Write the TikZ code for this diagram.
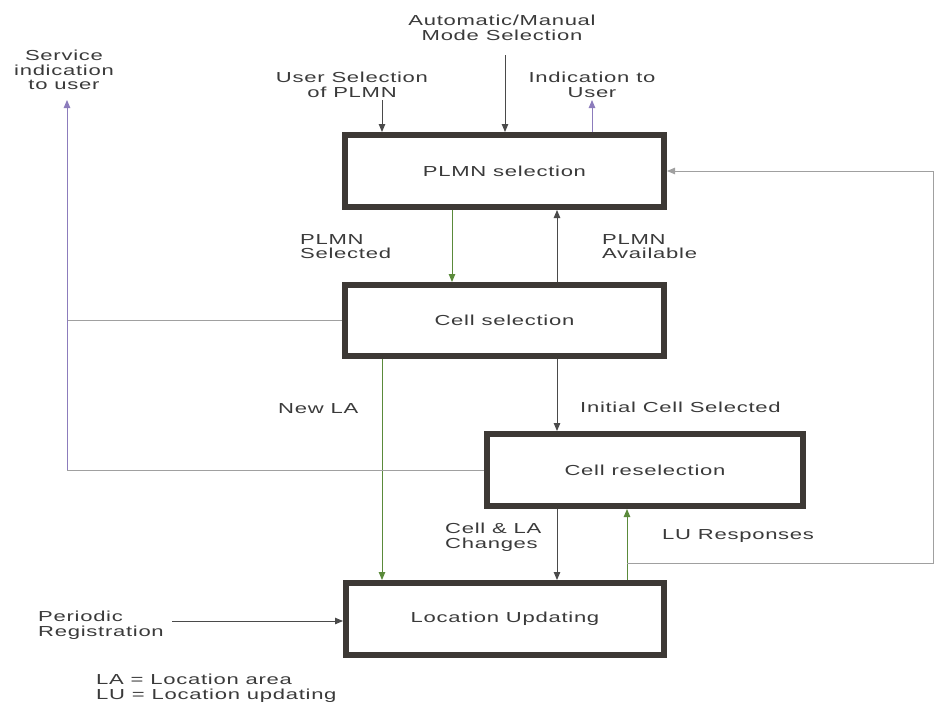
\documentclass[tikz,border=0pt]{standalone}
\usepackage{fontspec}
\setmainfont{Liberation Sans}[FakeStretch=1.52,LetterSpace=5]
\usetikzlibrary{arrows.meta}
\definecolor{boxc}{HTML}{3D3935}
\definecolor{txt}{HTML}{3A3A3A}
\definecolor{lgray}{HTML}{A0A0A0}
\definecolor{dgray}{HTML}{4A4A4A}
\definecolor{grn}{HTML}{5A8A3A}
\definecolor{purp}{HTML}{8C7CBC}
\begin{document}
\begin{tikzpicture}[x=1pt,y=-1pt,
  every node/.style={font=\fontsize{14.5}{14.5}\selectfont, text=txt},
  blk/.style={draw=boxc, line width=6pt, fill=white, inner sep=0pt},
  lbl/.style={inner sep=0pt, align=left, anchor=north west},
  lblc/.style={inner sep=0pt, align=center, anchor=north},
  arr/.style={-{Triangle[length=8pt,width=6.5pt]}, line width=0.9pt},
  ln/.style={line width=0.9pt}]
\useasboundingbox (0,0) rectangle (934,702);

% boxes
\node[blk, minimum width=319pt, minimum height=72pt] (plmn) at (504.5,171) {PLMN selection};
\node[blk, minimum width=319pt, minimum height=71pt] (cell) at (504.5,320.5) {Cell selection};
\node[blk, minimum width=316pt, minimum height=72pt] (resel) at (645,470) {Cell reselection};
\node[blk, minimum width=318pt, minimum height=72pt] (lu) at (505,619) {Location Updating};

% labels
\node[lblc] (tauto) at (502,15) {Automatic/Manual\\Mode Selection};
\node[lblc] (tserv) at (64,50) {Service\\indication\\to user};
\node[lblc] (tusel) at (352,72) {User Selection\\of PLMN};
\node[lblc] (tind) at (592,72) {Indication to\\User};
\node[lbl] (tpsel) at (300,234) {PLMN\\Selected};
\node[lbl] (tpav) at (602,234) {PLMN\\Available};
\node[lbl] (tnla) at (278,403) {New LA};
\node[lbl] (tics) at (580,402) {Initial Cell Selected};
\node[lbl] (tcla) at (445,523) {Cell \& LA\\Changes};
\node[lbl] (tlur) at (662,529) {LU Responses};
\node[lbl] (tper) at (38,611) {Periodic\\Registration};
\node[lbl] (tleg) at (96,674) {LA = Location area\\LU = Location updating};

% coordinates
\coordinate (autoS) at (505,55);
\coordinate (uselS) at (382,100);
\coordinate (indE) at (592,100);
\coordinate (sv) at (67,100);
\coordinate (perS) at (172,621);
\coordinate (j) at (627,563);
\coordinate (rc) at (933,563);

% top inputs
\draw[arr,dgray] (autoS) -- (autoS |- plmn.north);
\draw[arr,dgray] (uselS) -- (uselS |- plmn.north);
\draw[arr,purp] (indE |- plmn.north) -- (indE);

% PLMN <-> Cell
\draw[arr,grn] (plmn.south -| 452,0) -- (cell.north -| 452,0);
\draw[arr,dgray] (cell.north -| 557,0) -- (plmn.south -| 557,0);

% Cell -> LU (New LA) and Cell -> reselection
\draw[arr,grn] (cell.south -| uselS) -- (lu.north -| uselS);
\draw[arr,dgray] (cell.south -| 557,0) -- (resel.north -| 557,0);

% reselection <-> LU
\draw[arr,dgray] (resel.south -| 557,0) -- (lu.north -| 557,0);
\draw[arr,grn] (lu.north -| j) -- (resel.south -| j);

% loop back to PLMN
\draw[arr,lgray] (j) -- (rc) -- (rc |- plmn.east) -- (plmn.east);

% service indication
\draw[ln,lgray] (cell.west) -- (cell.west -| sv);
\draw[ln,lgray] (resel.west) -- (resel.west -| sv);
\draw[arr,purp] (resel.west -| sv) -- (sv);

% periodic registration
\draw[arr,dgray] (perS) -- (perS -| lu.west);
\end{tikzpicture}
\end{document}
